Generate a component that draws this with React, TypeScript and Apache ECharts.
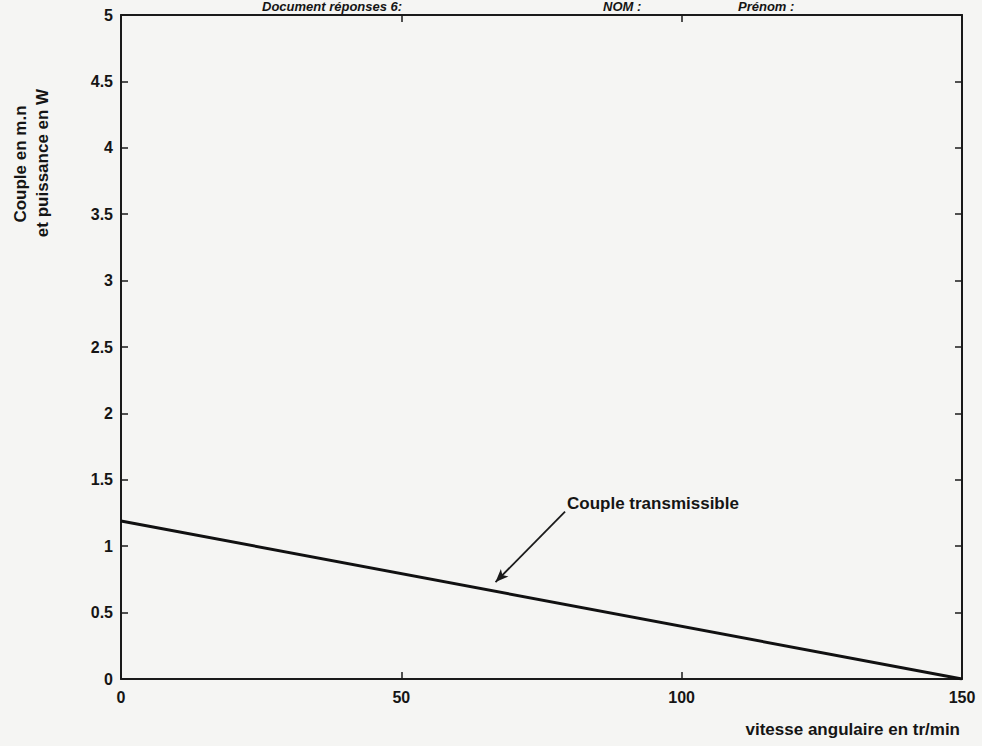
import React, { useEffect, useRef } from "react";
import * as echarts from "echarts";

const speedValues = [0, 150];
const torqueValues = [1.19, 0];
const xTicks = { min: 0, max: 150, interval: 50 };
const yTicks = { min: 0, max: 5, interval: 0.5 };
const arrowFrom = [79.2, 1.26];
const arrowTo = [66.8, 0.73];
const annotation = "Couple transmissible";
const yName1 = "Couple en m.n";
const yName2 = "et puissance en W";
const xName = "vitesse angulaire en tr/min";
const headerTexts = ["Document réponses 6:", "NOM :", "Prénom :"];

const FONT = "'Liberation Sans', Arial, sans-serif";

export default function App() {
  const ref = useRef<HTMLDivElement>(null);
  useEffect(() => {
    if (!ref.current) return;
    const chart = echarts.init(ref.current, null, { renderer: "svg" });
    const axisCommon = {
      axisLine: { show: true, onZero: false, lineStyle: { color: "#1a1a1a", width: 2 } },
      axisTick: { show: true, inside: true, length: 7, lineStyle: { color: "#1a1a1a", width: 1.5 } },
      splitLine: { show: false },
    };
    const labelStyle = {
      color: "#151515",
      fontFamily: FONT,
      fontWeight: "bold" as const,
      fontSize: 16,
    };
    const formatY = (v: number) => String(Math.round(v * 10) / 10);
    const headerFont = `italic bold 13px ${FONT}`;
    chart.setOption({
      animation: false,
      backgroundColor: "#f5f5f3",
      grid: { left: 121, right: 20, top: 15, bottom: 67, containLabel: false },
      xAxis: [
        {
          type: "value",
          position: "bottom",
          ...xTicks,
          ...axisCommon,
          axisLabel: { ...labelStyle, margin: 10 },
        },
        {
          type: "value",
          position: "top",
          ...xTicks,
          ...axisCommon,
          axisLabel: { show: false },
        },
      ],
      yAxis: [
        {
          type: "value",
          position: "left",
          ...yTicks,
          ...axisCommon,
          axisLabel: { ...labelStyle, margin: 8, formatter: formatY },
        },
        {
          type: "value",
          position: "right",
          ...yTicks,
          ...axisCommon,
          axisLabel: { show: false },
        },
      ],
      series: [
        {
          type: "line",
          xAxisIndex: 0,
          yAxisIndex: 0,
          data: speedValues.map((x, i) => [x, torqueValues[i]]),
          symbol: "none",
          lineStyle: { color: "#111", width: 3 },
          markLine: {
            silent: true,
            symbol: ["none", "arrow"],
            symbolSize: [8, 13],
            label: { show: false },
            lineStyle: { color: "#1a1a1a", width: 1.8, type: "solid" },
            data: [[{ coord: arrowFrom }, { coord: arrowTo }]],
          },
        },
      ],
      graphic: [
        {
          type: "text",
          x: 567,
          y: 503,
          style: {
            text: annotation,
            fill: "#151515",
            font: `bold 17px ${FONT}`,
            textVerticalAlign: "middle",
          },
        },
        {
          type: "text",
          x: 20,
          y: 164,
          rotation: Math.PI / 2,
          style: {
            text: yName1,
            fill: "#151515",
            font: `bold 17px ${FONT}`,
            textAlign: "center",
            textVerticalAlign: "middle",
          },
        },
        {
          type: "text",
          x: 42,
          y: 163,
          rotation: Math.PI / 2,
          style: {
            text: yName2,
            fill: "#151515",
            font: `bold 17px ${FONT}`,
            textAlign: "center",
            textVerticalAlign: "middle",
          },
        },
        {
          type: "text",
          x: 960,
          y: 729,
          style: {
            text: xName,
            fill: "#151515",
            font: `bold 17px ${FONT}`,
            textAlign: "right",
            textVerticalAlign: "middle",
          },
        },
        {
          type: "text",
          x: 262,
          y: 0,
          style: {
            text: headerTexts[0],
            fill: "#151515",
            font: headerFont,
            textVerticalAlign: "top",
          },
        },
        {
          type: "text",
          x: 603,
          y: 0,
          style: {
            text: headerTexts[1],
            fill: "#151515",
            font: headerFont,
            textVerticalAlign: "top",
          },
        },
        {
          type: "text",
          x: 738,
          y: 0,
          style: {
            text: headerTexts[2],
            fill: "#151515",
            font: headerFont,
            textVerticalAlign: "top",
          },
        },
      ],
    });
    return () => chart.dispose();
  }, []);
  return (
    <div
      ref={ref}
      style={{ position: "absolute", left: 0, top: 0, width: 982, height: 746 }}
    />
  );
}
